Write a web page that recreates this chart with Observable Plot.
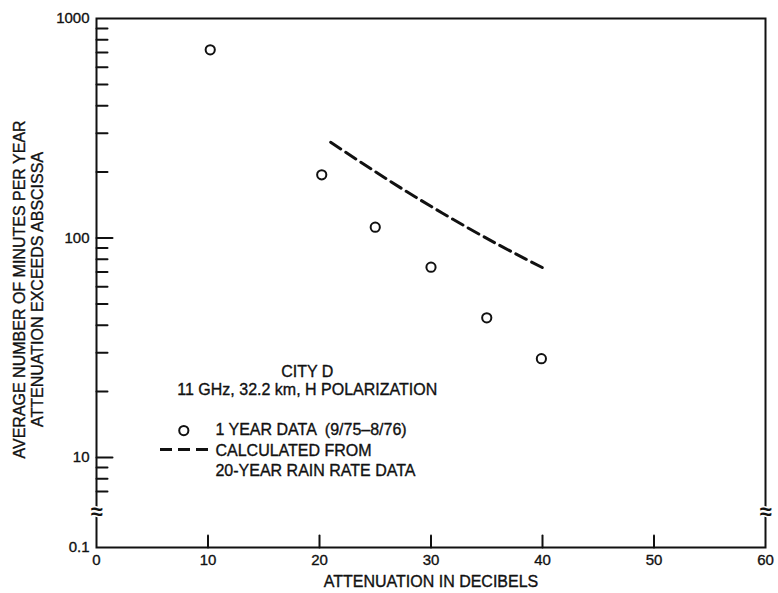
<!DOCTYPE html>
<html>
<head>
<meta charset="utf-8">
<script src="https://cdn.jsdelivr.net/npm/d3@7"></script>
<script src="https://cdn.jsdelivr.net/npm/@observablehq/plot@0.6"></script>
<style>
  html, body { margin: 0; padding: 0; background: #fff; }
  #chart svg { font-family: "Liberation Sans", Arial, Helvetica, sans-serif; }
  #chart g[aria-label="x-axis tick label"] text,
  #chart g[aria-label="y-axis tick label"] text { stroke: #111; stroke-width: 0.35px; }
</style>
</head>
<body>
<div id="chart"></div>
<script>
// Measured data (1 year data, 9/75-8/76)
const attenuation = [10.2, 20.2, 25.0, 30.0, 35.0, 39.9];
const minutes = [720, 194, 112, 73.6, 43.3, 28.2];

// Calculated from 20-year rain rate data
const calcAttenuation = [21.0, 26.0, 31.0, 36.0, 40.3];
const calcMinutes = [273, 186, 130, 93.5, 72];

// Axes
const xTicks = [0, 10, 20, 30, 40, 50, 60];
const yMajorTicks = [10, 100, 1000];
const yMinorTicks = [7, 8, 9, 20, 30, 40, 50, 60, 70, 80, 90, 200, 300, 400, 500, 600, 700, 800, 900];
const yBreakBottom = 3.89;   // bottom of broken axis, labelled 0.1
const yBottomLabel = "0.1";
const yBreakAt = 5.67;

const points = attenuation.map((a, i) => ({a, m: minutes[i]}));
const calc = calcAttenuation.map((a, i) => ({a, m: calcMinutes[i]}));

const tickShape = {draw(context, l) { context.moveTo(0, 0); context.lineTo(0, -l); }};
const ink = "#111";
const txt = {fontSize: 16, fill: ink, stroke: ink, strokeWidth: 0.35};

const chart = Plot.plot({
  width: 778,
  height: 593,
  marginLeft: 96,
  marginRight: 13,
  marginTop: 18,
  marginBottom: 46,
  style: {fontFamily: '"Liberation Sans", Arial, Helvetica, sans-serif', color: ink, background: "#fff"},
  x: {domain: [0, 60]},
  y: {type: "log", domain: [yBreakBottom, 1000]},
  marks: [
    Plot.frame({stroke: ink, strokeWidth: 2}),
    // y ticks (inward)
    Plot.vector(yMinorTicks, {x: 0, y: d => d, length: 11, rotate: 90, anchor: "start", shape: tickShape, stroke: ink, strokeWidth: 2}),
    Plot.vector(yMajorTicks.filter(d => d < 1000), {x: 0, y: d => d, length: 16, rotate: 90, anchor: "start", shape: tickShape, stroke: ink, strokeWidth: 2}),
    // x ticks (inward)
    Plot.vector(xTicks.filter(d => d > 0 && d < 60), {x: d => d, y: yBreakBottom, length: 12, rotate: 0, anchor: "start", shape: tickShape, stroke: ink, strokeWidth: 2}),
    Plot.axisX({ticks: xTicks, tickSize: 0, tickPadding: 7, fontSize: 15, label: null}),
    Plot.axisY({ticks: [yBreakBottom, ...yMajorTicks], tickSize: 0, tickPadding: 7, fontSize: 15, label: null,
      tickFormat: d => d === yBreakBottom ? yBottomLabel : String(d)}),
    // axis break marks
    Plot.text(["≈"], {x: 0, y: yBreakAt, fontSize: 22, fontWeight: "bold", fill: ink, stroke: "white", strokeWidth: 3, paintOrder: "stroke"}),
    Plot.text(["≈"], {x: 60, y: yBreakAt, fontSize: 22, fontWeight: "bold", fill: ink, stroke: "white", strokeWidth: 3, paintOrder: "stroke"}),
    // data
    Plot.line(calc, {x: "a", y: "m", curve: "natural", stroke: ink, strokeWidth: 3, strokeDasharray: "12,6"}),
    Plot.dot(points, {x: "a", y: "m", r: 4.6, stroke: ink, strokeWidth: 2, fill: "none"}),
    // annotation
    Plot.text(["CITY D"], {x: 18.9, y: 24.6, ...txt}),
    Plot.text(["11 GHz, 32.2 km, H POLARIZATION"], {x: 18.9, y: 20.4, ...txt}),
    // legend
    Plot.dot([0], {x: 7.83, y: 13.27, r: 4.6, stroke: ink, strokeWidth: 2, fill: "none"}),
    Plot.text(["1 YEAR DATA  (9/75–8/76)"], {x: 10.67, y: 13.3, textAnchor: "start", ...txt}),
    Plot.ruleY([10.87], {x1: 5.74, x2: 10.22, stroke: ink, strokeWidth: 3, strokeDasharray: "12,6"}),
    Plot.text(["CALCULATED FROM"], {x: 10.67, y: 10.7, textAnchor: "start", ...txt}),
    Plot.text(["20-YEAR RAIN RATE DATA"], {x: 10.67, y: 8.68, textAnchor: "start", ...txt}),
    // axis titles
    Plot.text(["ATTENUATION IN DECIBELS"], {frameAnchor: "bottom", dy: 39, ...txt}),
    Plot.text(["AVERAGE NUMBER OF MINUTES PER YEAR\nATTENUATION EXCEEDS ABSCISSA"], {x: -6.14, y: 58.3, rotate: -90, lineHeight: 1.12, ...txt})
  ]
});
document.getElementById("chart").appendChild(chart);
</script>
</body>
</html>
